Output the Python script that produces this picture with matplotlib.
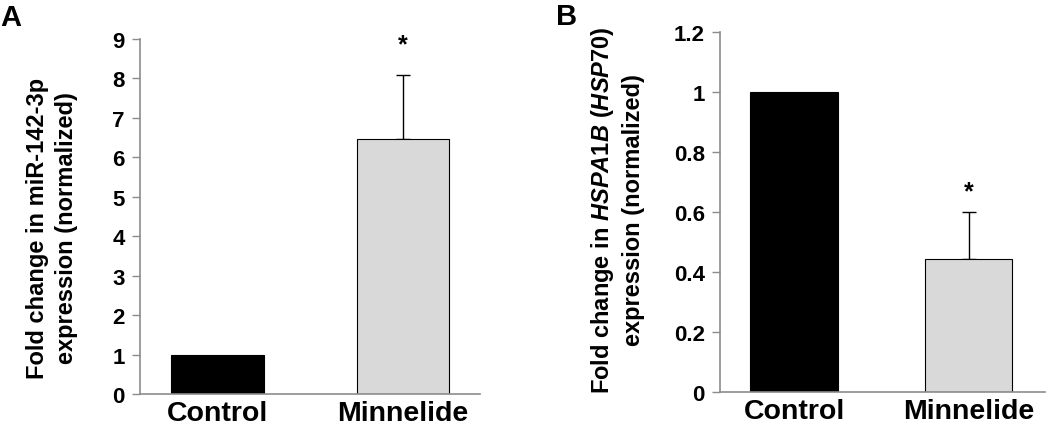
import matplotlib
matplotlib.use("Agg")
import matplotlib.pyplot as plt

plt.rcParams['font.family'] = ['Liberation Sans', 'DejaVu Sans']
plt.rcParams['font.weight'] = 'bold'
plt.rcParams['mathtext.fontset'] = 'custom'
plt.rcParams['mathtext.rm'] = 'Liberation Sans:bold'
plt.rcParams['mathtext.it'] = 'Liberation Sans:italic:bold'
plt.rcParams['mathtext.bf'] = 'Liberation Sans:bold'

# data
groups = ["Control", "Minnelide"]
mir_vals = [1.0, 6.47]
mir_err = [0.0, 1.63]
hsp_vals = [1.0, 0.445]
hsp_err = [0.0, 0.155]
bar_colors = ["black", "#d9d9d9"]

spine_gray = "#8c8c8c"
W, H = 1050, 431

fig = plt.figure(figsize=(10.5, 4.31), dpi=100)
axA = fig.add_axes([140 / W, 1 - 395 / H, 340 / W, 355 / H])
axB = fig.add_axes([720 / W, 1 - 393 / H, 325 / W, 360 / H])


def style_axis(ax, xlim):
    for side in ("top", "right"):
        ax.spines[side].set_visible(False)
    for side in ("left", "bottom"):
        ax.spines[side].set_color(spine_gray)
        ax.spines[side].set_linewidth(1.2)
    ax.tick_params(axis="y", colors=spine_gray, labelcolor="black",
                   length=6, width=1.0, labelsize=16, pad=5)
    ax.tick_params(axis="x", length=0, labelsize=20.5, pad=4)
    ax.set_xlim(*xlim)


def draw_panel(ax, vals, errs):
    x = range(len(groups))
    ax.bar(x, vals, width=0.5, color=bar_colors, edgecolor="black",
           linewidth=0.8, zorder=2)
    ax.errorbar(x[1], vals[1], yerr=[[0], [errs[1]]], fmt="none",
                ecolor="black", elinewidth=1.0, capsize=5, capthick=1.0,
                zorder=1)
    ax.set_xticks(list(x))
    ax.set_xticklabels(groups)


# Panel A: miR-142-3p
draw_panel(axA, mir_vals, mir_err)
style_axis(axA, (-0.418, 1.415))
axA.set_ylim(0, 9)
axA.set_yticks(range(0, 10))
axA.text(1, 8.55, "*", ha="center", va="bottom", fontsize=18)
fig.text(52 / W, 1 - 228 / H, "Fold change in miR-142-3p\nexpression (normalized)",
         rotation=90, ha="center", va="center", multialignment="center",
         fontsize=17, fontweight="bold", linespacing=1.3)
fig.text(0.0, 1 - 26 / H, "A", fontsize=21, ha="left", va="baseline")

# Panel B: HSPA1B (HSP70)
draw_panel(axB, hsp_vals, hsp_err)
style_axis(axB, (-0.424, 1.438))
axB.set_ylim(0, 1.2)
axB.set_yticks([0, 0.2, 0.4, 0.6, 0.8, 1.0, 1.2])
axB.set_yticklabels(["0", "0.2", "0.4", "0.6", "0.8", "1", "1.2"])
axB.text(1, 0.628, "*", ha="center", va="bottom", fontsize=18)
fig.text(617 / W, 1 - 210 / H,
         "Fold change in $\\mathit{HSPA1B\\ (HSP70)}$\nexpression (normalized)",
         rotation=90, ha="center", va="center", multialignment="center",
         fontsize=17, fontweight="bold", linespacing=1.3)
fig.text(556 / W, 1 - 25 / H, "B", fontsize=21, ha="left", va="baseline")

fig.savefig("out.png", dpi=100)
